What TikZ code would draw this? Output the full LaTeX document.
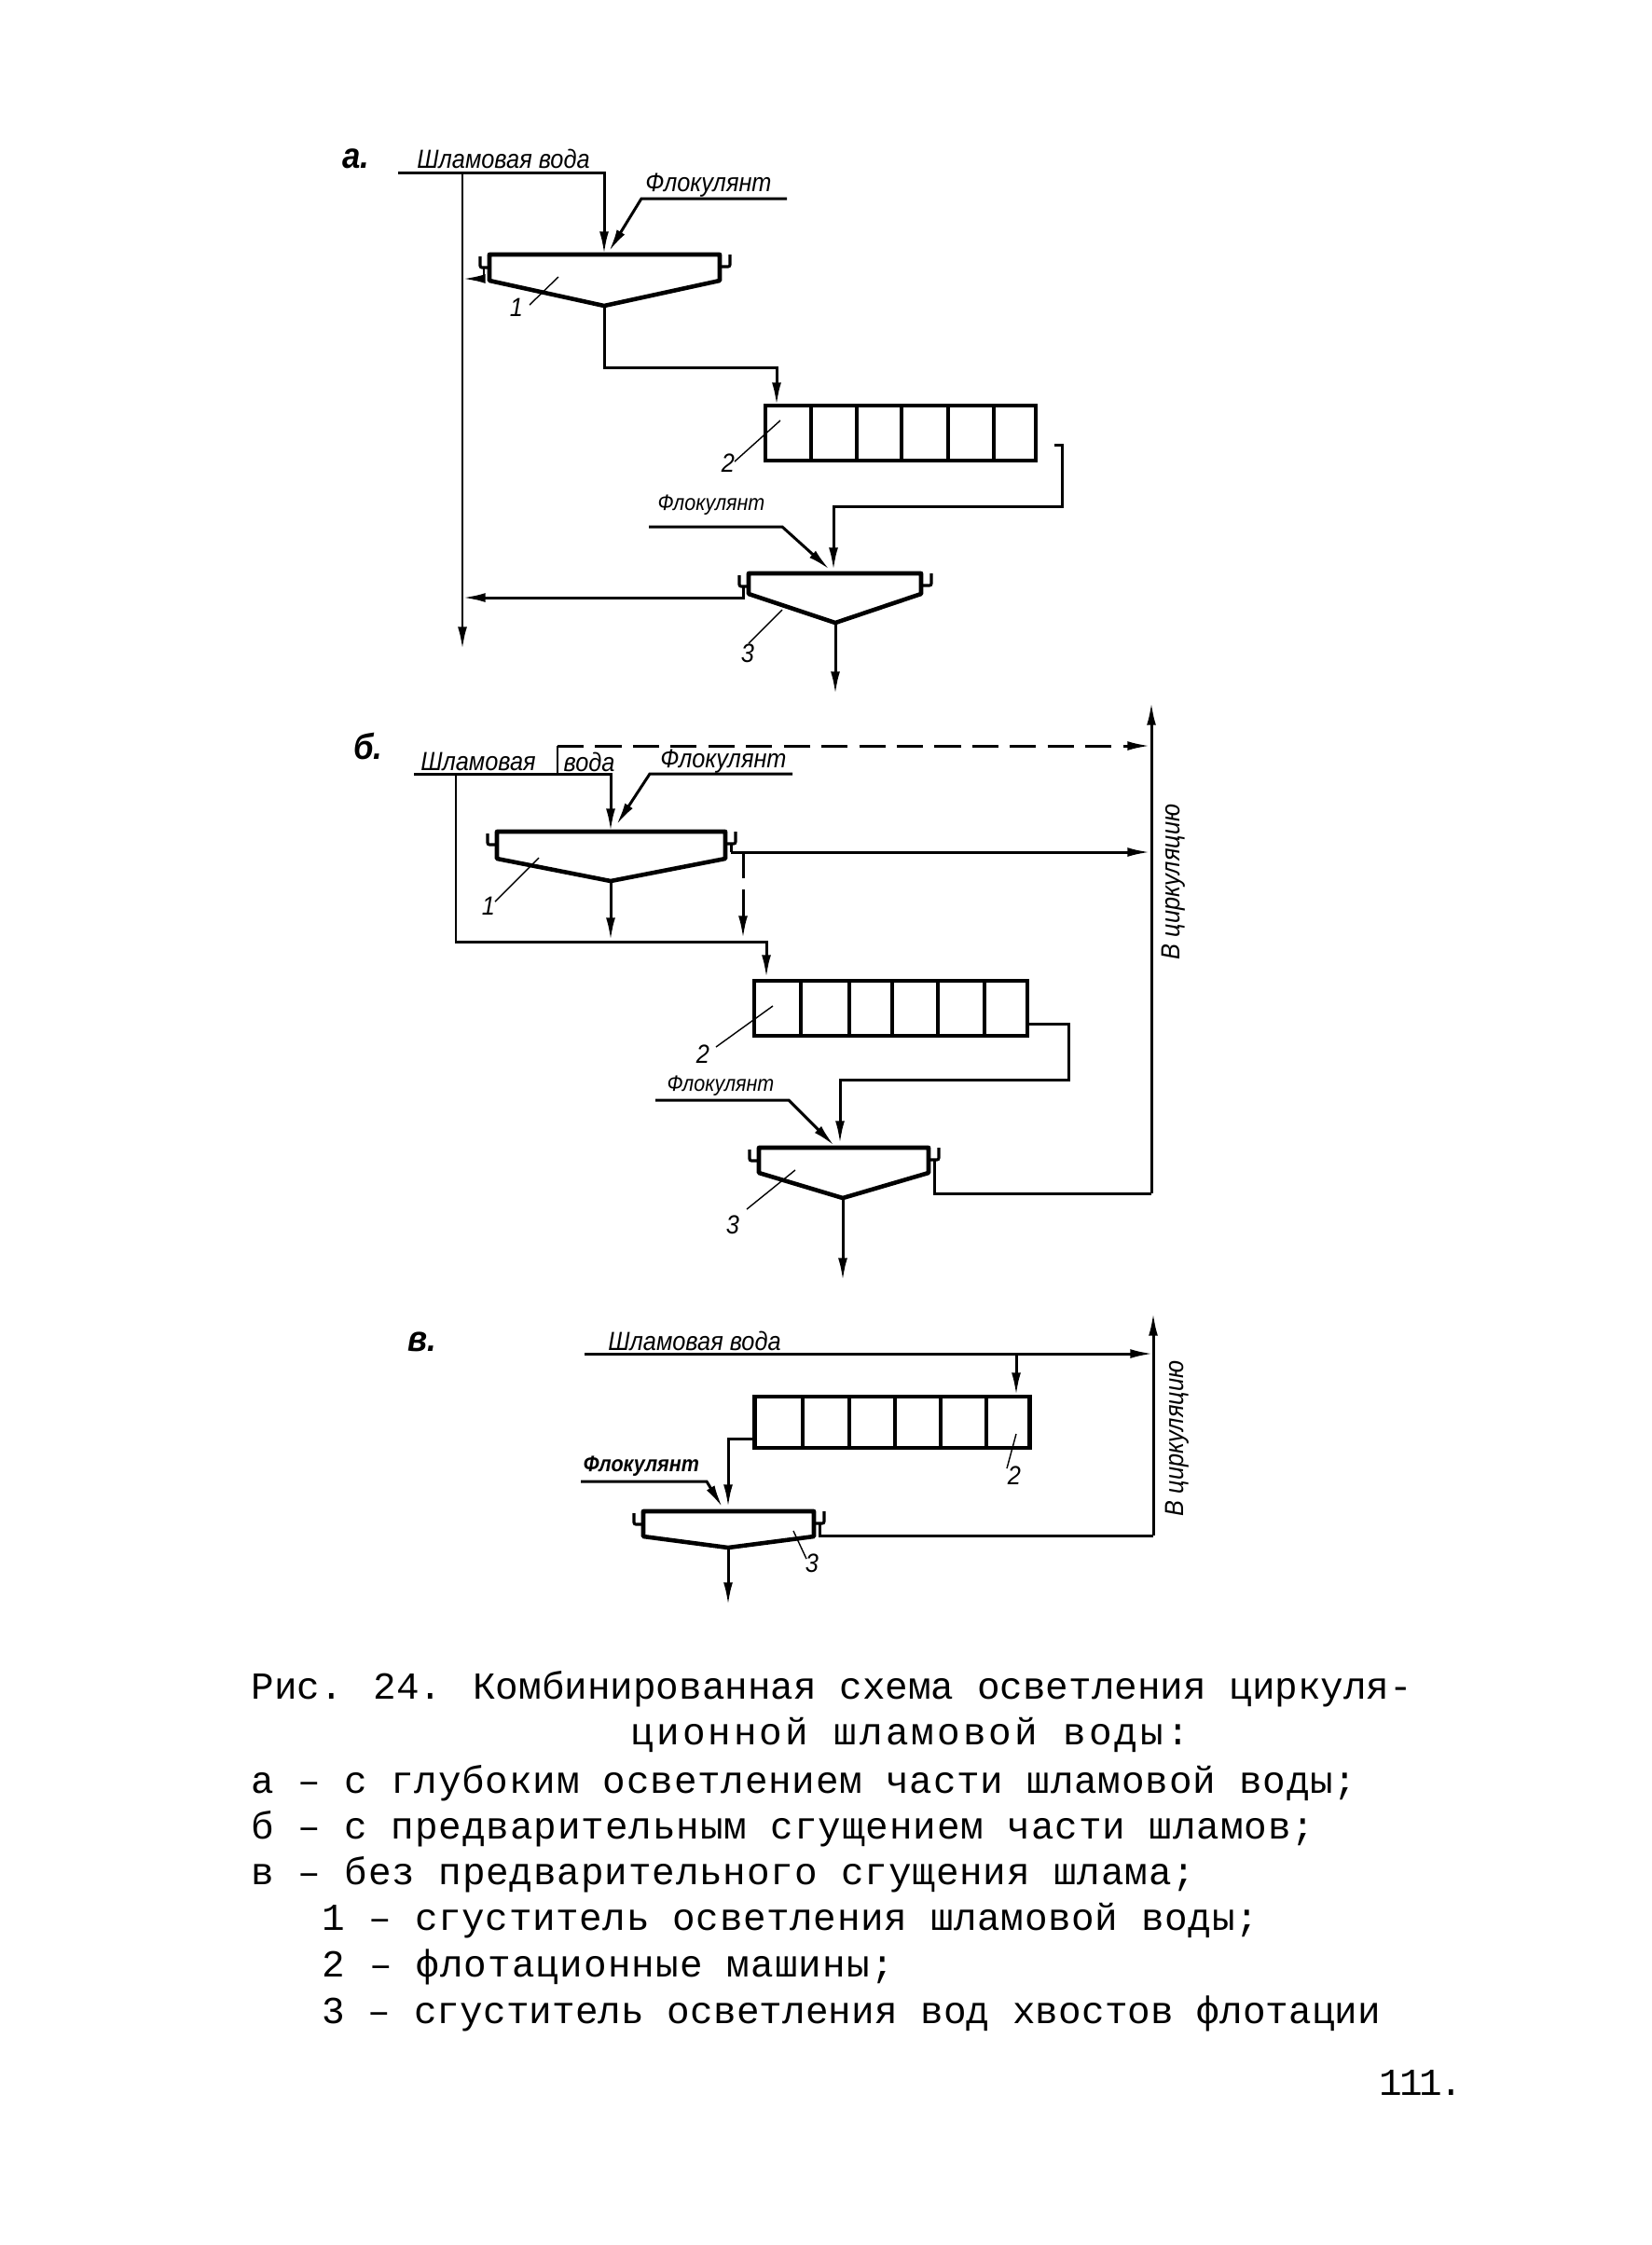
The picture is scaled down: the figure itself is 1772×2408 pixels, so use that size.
\documentclass[tikz,border=0pt]{standalone}
\usepackage{fontspec}
\setmainfont{Liberation Mono}
\newfontfamily\handfont[FakeStretch=0.9]{Liberation Sans}
\usepackage{tikz}
\usetikzlibrary{arrows.meta,positioning,calc}
\tikzset{
  pipe/.style={line width=0.85pt},
  pipearrow/.style={pipe, -{Latex[length=7pt,width=2.8pt]}},
  tank/.style={line width=1.3pt, line join=round},
  launder/.style={line width=0.9pt, rounded corners=0.6pt},
  machine/.style={draw, line width=1.3pt, inner sep=0pt, outer sep=0pt},
  cell/.style={line width=1.1pt},
  leader/.style={line width=0.4pt},
  hand/.style={font=\handfont\itshape\fontsize{8}{9}\selectfont, inner sep=0pt},
  handsmall/.style={font=\handfont\itshape\fontsize{6.8}{8}\selectfont, inner sep=0pt},
  handbold/.style={font=\handfont\itshape\bfseries\fontsize{6.8}{8}\selectfont, inner sep=0pt},
  partlabel/.style={font=\handfont\itshape\bfseries\fontsize{11}{12}\selectfont, inner sep=0pt},
  legend/.style={font=\fontsize{11.65}{13}\selectfont\addfontfeature{LetterSpace=#1}, anchor=west, inner sep=0pt},
  legend/.default=0
}
% tank: name, left x, right x, top y, side y, apex x, apex y
\newcommand{\settler}[7]{
  \draw[tank] (#2,#4) -- (#3,#4) -- (#3,#5) -- (#6,#7) -- (#2,#5) -- cycle;
  \draw[launder] (#2,#4+14) -- (#2-10,#4+14) -- (#2-10,#4+2);
  \draw[launder] (#3,#4+13) -- (#3+11,#4+13) -- (#3+11,#4);
  \coordinate (#1-t) at (#6,#4);
  \coordinate (#1-a) at (#6,#7);
  \coordinate (#1-l) at (#2-6,#4+14);
  \coordinate (#1-r) at (#3+6,#4+13);
}
\begin{document}
\begin{tikzpicture}[x=0.01cm, y=-0.01cm]
  \useasboundingbox (0,0) rectangle (1772,2408);

  % variant a
  \node[partlabel] (alabel) at (382,170) {а.};
  \node[hand] (awater) at (540,170) {Шламовая вода};
  \node[hand] (afloc) at (760,199) {Флокулянт};
  \node[handsmall] (afloc2) at (763,542) {Флокулянт};
  \settler{at}{525}{772}{273}{301}{648}{328}
  \settler{as}{803}{988}{615}{637}{896}{668}
  \node[machine, minimum width=2.9cm, minimum height=0.59cm] (am) at (966,464.5) {};
  \foreach \xcell in {870,919,967,1017,1066}
    \draw[cell] (\xcell,435) -- (\xcell,494);
  \coordinate (ain) at (427,185);
  \coordinate (ajn) at (496,185);
  \coordinate (aend) at (496,697);
  \coordinate (aj1) at (496,299);
  \coordinate (aj2) at (496,641);
  \coordinate (afl0) at (844,213);
  \coordinate (afl1) at (688,213);
  \coordinate (afl2) at (653,270);
  \coordinate (abend) at (648,394);
  \coordinate (amin) at (833,435);
  \coordinate (amo0) at (1131,477);
  \coordinate (amo1) at (1139,477);
  \coordinate (amo2) at (1139,543);
  \coordinate (afb0) at (696,565);
  \coordinate (afb1) at (839,565);
  \coordinate (afb2) at (890,611);
  \coordinate (aout) at (896,745);
  \draw[pipearrow] (ain) -| (at-t);
  \draw[pipearrow] (ajn) -- (aend);
  \draw[pipearrow] (afl0) -- (afl1) -- (afl2);
  \draw[pipearrow] (at-l) |- (aj1);
  \draw[pipearrow] (at-a) -- (abend) -| (amin);
  \draw[pipearrow] (amo0) -- (amo1) -- (amo2) -| (894,612);
  \draw[pipearrow] (afb0) -- (afb1) -- (afb2);
  \draw[pipearrow] (as-l) |- (aj2);
  \draw[pipearrow] (as-a) -- (aout);
  \draw[leader] (599,297) -- (568,327);
  \node[hand] (an1) at (554,330) {1};
  \draw[leader] (837,451) -- (788,495);
  \node[hand] (an2) at (781,497) {2};
  \draw[leader] (839,654) -- (803,690);
  \node[hand] (an3) at (802,701) {3};

  % variant b
  \node[partlabel] (blabel) at (395,800) {б.};
  \node[hand] (bwater) at (513,817) {Шламовая};
  \node[hand] (bwater2) at (632,817) {вода};
  \node[hand] (bfloc) at (776,817) {Флокулянт};
  \node[handsmall] (bfloc2) at (773,1165) {Флокулянт};
  \node[hand, rotate=90] (bcirc) at (1259,946) {В циркуляцию};
  \settler{bt}{533}{778}{892}{921}{655}{945}
  \settler{bs}{814}{996}{1231}{1258}{904}{1285}
  \node[machine, minimum width=2.93cm, minimum height=0.59cm] (bm) at (955.5,1081.5) {};
  \foreach \xcell in {859,911,957,1006,1056}
    \draw[cell] (\xcell,1052) -- (\xcell,1111);
  \coordinate (bin) at (444,830);
  \coordinate (bup0) at (598,830);
  \coordinate (bup1) at (598,800);
  \coordinate (bret1) at (1234,800);
  \coordinate (bret2) at (1234,914);
  \coordinate (btop) at (1235,753);
  \coordinate (bbot) at (1235,1280);
  \coordinate (bleft) at (489,830);
  \coordinate (blow) at (489,1010);
  \coordinate (bmin) at (822,1049);
  \coordinate (bover) at (784,914);
  \coordinate (bdash) at (797,914);
  \coordinate (bdash1) at (797,1007);
  \coordinate (bdrain) at (655,1009);
  \coordinate (bfl0) at (850,830);
  \coordinate (bfl1) at (697,830);
  \coordinate (bfl2) at (661,885);
  \coordinate (bmo0) at (1103,1098);
  \coordinate (bmo1) at (1146,1098);
  \coordinate (bmo2) at (1146,1158);
  \coordinate (bfb0) at (703,1180);
  \coordinate (bfb1) at (846,1180);
  \coordinate (bfb2) at (895,1229);
  \coordinate (bout) at (904,1374);
  \draw[pipearrow] (bin) -| (bt-t);
  \draw[line width=0.4pt] (bup0) -- (bup1);
  \draw[pipearrow, dash pattern=on 8pt off 3.5pt] (bup1) -- (bret1);
  \draw[pipearrow] (bfl0) -- (bfl1) -- (bfl2);
  \draw[pipe] (bt-r) |- (bover);
  \draw[pipearrow] (bover) -- (bret2);
  \draw[pipearrow, dash pattern=on 8pt off 3.5pt] (bdash) -- (bdash1);
  \draw[pipearrow] (bt-a) -- (bdrain);
  \draw[pipearrow] (bleft) -- (blow) -| (bmin);
  \draw[pipearrow] (bbot) -- (btop);
  \draw[pipe] (bs-r) |- (bbot);
  \draw[pipearrow] (bmo0) -- (bmo1) -- (bmo2) -| (901,1227);
  \draw[pipearrow] (bfb0) -- (bfb1) -- (bfb2);
  \draw[pipearrow] (bs-a) -- (bout);
  \draw[leader] (578,920) -- (531,967);
  \node[hand] (bn1) at (524,972) {1};
  \draw[leader] (829,1079) -- (768,1123);
  \node[hand] (bn2) at (754,1131) {2};
  \draw[leader] (853,1255) -- (801,1297);
  \node[hand] (bn3) at (786,1314) {3};

  % variant c
  \node[partlabel] (clabel) at (453,1439) {в.};
  \node[hand] (cwater) at (745,1438) {Шламовая вода};
  \node[handbold] (cfloc) at (688,1573) {Флокулянт};
  \node[hand, rotate=90] (ccirc) at (1263,1543) {В циркуляцию};
  \settler{cs}{690}{873}{1621}{1648}{781}{1660}
  \node[machine, minimum width=2.945cm, minimum height=0.55cm] (cm) at (957,1525.5) {};
  \foreach \xcell in {861,911,960,1009,1058}
    \draw[cell] (\xcell,1498) -- (\xcell,1553);
  \coordinate (cin) at (627,1452);
  \coordinate (cret) at (1237,1452);
  \coordinate (cjn) at (1090,1452);
  \coordinate (cmin) at (1090,1497);
  \coordinate (ctop) at (1237,1408);
  \coordinate (cbot) at (1237,1647);
  \coordinate (cmo0) at (810,1543);
  \coordinate (cmo1) at (781,1543);
  \coordinate (cmo2) at (781,1617);
  \coordinate (cfl0) at (623,1589);
  \coordinate (cfl1) at (758,1589);
  \coordinate (cfl2) at (775,1617);
  \coordinate (cout) at (781,1722);
  \draw[pipearrow] (cin) -- (cret);
  \draw[pipearrow] (cjn) -- (cmin);
  \draw[pipearrow] (cbot) -- (ctop);
  \draw[pipe] (cs-r) |- (cbot);
  \draw[pipearrow] (cmo0) -- (cmo1) -- (cmo2);
  \draw[pipearrow] (cfl0) -- (cfl1) -- (cfl2);
  \draw[pipearrow] (cs-a) -- (cout);
  \draw[leader] (1090,1538) -- (1080,1575);
  \node[hand] (cn2) at (1088,1583) {2};
  \draw[leader] (851,1642) -- (865,1672);
  \node[hand] (cn3) at (871,1677) {3};

  % caption
  \node[legend] (cap1) at (269,1812) {Рис. 24. Комбинированная схема осветления циркуля-};
  \node[legend=7.5] (cap2) at (676,1861) {ционной шламовой воды:};
  \node[legend=1.9] (cap3) at (269,1913) {а – с глубоким осветлением части шламовой воды;};
  \node[legend=2.2] (cap4) at (269,1962) {б – с предварительным сгущением части шламов;};
  \node[legend=2.1] (cap5) at (269,2011) {в – без предварительного сгущения шлама;};
  \node[legend=1.5] (cap6) at (345,2060) {1 – сгуститель осветления шламовой воды;};
  \node[legend=2.8] (cap7) at (345,2110) {2 – флотационные машины;};
  \node[legend=0.3] (cap8) at (345,2160) {3 – сгуститель осветления вод хвостов флотации};
  \node[legend=-7.3] (page) at (1479,2234) {111.};
\end{tikzpicture}
\end{document}
